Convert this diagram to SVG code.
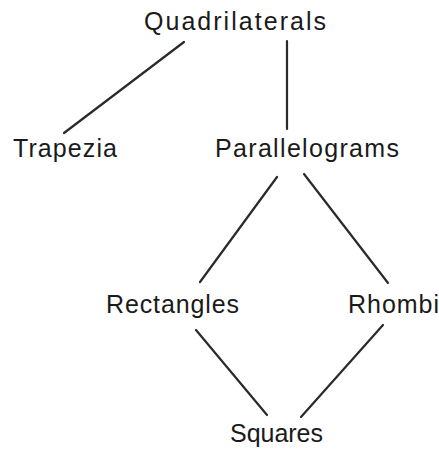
<svg xmlns="http://www.w3.org/2000/svg" width="439" height="450" viewBox="0 0 439 450">
<style>
.lbl{font-family:"Liberation Sans",Arial,Helvetica,sans-serif;font-size:25px;fill:#1a1a1a}
.edge{stroke:#2a2a2a;stroke-width:2.2;stroke-linecap:round;fill:none}
</style>
<rect width="439" height="450" fill="#ffffff"/>
<g id="connectors">
<line class="edge" x1="184" y1="42" x2="64" y2="133"/>
<line class="edge" x1="287" y1="41" x2="287" y2="129"/>
<line class="edge" x1="277" y1="177" x2="200" y2="282"/>
<line class="edge" x1="304" y1="174" x2="388" y2="283"/>
<line class="edge" x1="196" y1="330" x2="267" y2="415"/>
<line class="edge" x1="383" y1="325" x2="301" y2="417"/>
</g>
<g id="quadrilaterals"><text class="lbl" x="144" y="30" textLength="182" lengthAdjust="spacing">Quadrilaterals</text></g>
<g id="trapezia"><text class="lbl" x="13" y="157" textLength="104" lengthAdjust="spacing">Trapezia</text></g>
<g id="parallelograms"><text class="lbl" x="215" y="157" textLength="184" lengthAdjust="spacing">Parallelograms</text></g>
<g id="rectangles"><text class="lbl" x="106" y="313" textLength="133" lengthAdjust="spacing">Rectangles</text></g>
<g id="rhombi"><text class="lbl" x="348" y="313" textLength="91" lengthAdjust="spacing">Rhombi</text></g>
<g id="squares"><text class="lbl" x="230" y="442" textLength="93" lengthAdjust="spacing">Squares</text></g>
</svg>
